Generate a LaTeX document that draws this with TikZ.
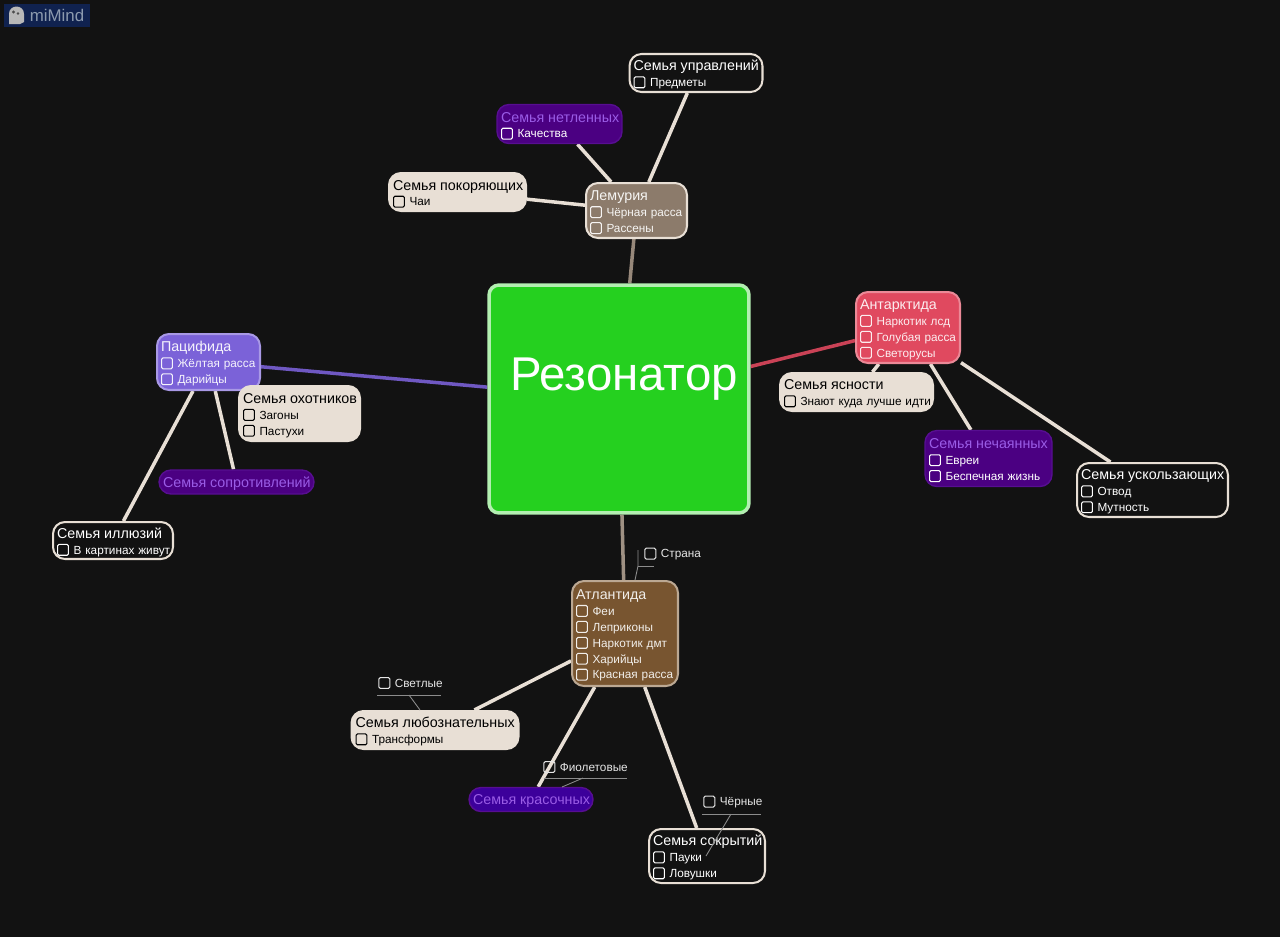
\documentclass[tikz,border=0pt]{standalone}
\usepackage{fontspec}
\setmainfont{Liberation Sans}
\usetikzlibrary{backgrounds}

\definecolor{bgdark}{HTML}{121212}
\definecolor{cream}{HTML}{E8DFD5}
\definecolor{deeppurple}{HTML}{4B0082}
\definecolor{lightpurple}{HTML}{9A5CE6}
\definecolor{lemcol}{HTML}{8C7B6B}
\definecolor{antcol}{HTML}{E0495F}
\definecolor{paccol}{HTML}{7B62D8}
\definecolor{atlcol}{HTML}{785530}
\definecolor{rezcol}{HTML}{25D01F}
\definecolor{logoblue}{HTML}{10224F}
\definecolor{logotext}{HTML}{8C9AAE}

\newcommand{\ttl}[1]{\mbox{\rule{0pt}{7.8pt}\fontsize{8.13}{9.6}\selectfont #1}}
\newcommand{\ptl}[1]{\mbox{\rule{0pt}{7.8pt}\fontsize{8.13}{9.6}\selectfont\color{lightpurple}#1}}
\newcommand{\itm}[1]{\mbox{\tikz[baseline=0.25pt]\draw[draw=.,line width=0.6pt,rounded corners=0.8pt] (0,-0.4pt) rectangle (6.2pt,5.8pt);\hspace{2.6pt}#1}}

\tikzset{
  mapnode/.style={rectangle, rounded corners=0.24cm, line width=1.15pt, inner xsep=0.08cm, inner ysep=0pt, align=left, font=\fontsize{6.7}{9.07}\selectfont},
  darkfam/.style={mapnode, draw=cream, fill=bgdark, text=white},
  lightfam/.style={mapnode, draw=cream, fill=cream, text=black},
  purplefam/.style={mapnode, draw=deeppurple!85!lightpurple, fill=deeppurple, text=white, line width=0.8pt},
  floatlabel/.style={inner sep=0pt, anchor=west, text=white!90!black, font=\fontsize{6.7}{9}\selectfont},
  branch/.style={line width=2pt, draw=cream},
  thinlink/.style={line width=0.5pt, draw=white!55!black}
}

\begin{document}
\begin{tikzpicture}[x=0.02cm, y=-0.02cm]

\node[draw=rezcol!35!white, fill=rezcol, rounded corners=0.2cm, line width=2pt, minimum width=5.2cm, minimum height=4.56cm, text=white, font=\fontsize{27}{30}\selectfont] (REZ) at (619,399) {\hspace*{0.2cm}\raisebox{0.18cm}[0pt][0pt]{Резонатор}};

\node[mapnode, draw=cream, fill=lemcol, text=white!92!lemcol, text width=1.86cm, minimum height=1.1cm] (LEM) at (636.5,210.5) {\ttl{Лемурия}\\\itm{Чёрная расса}\\\itm{Рассены}};
\node[darkfam, text width=2.5cm, minimum height=0.76cm] (UPR) at (696,73) {\ttl{Семья управлений}\\\itm{Предметы}};
\node[purplefam, text width=2.34cm, minimum height=0.78cm] (NET) at (559.5,124) {\ptl{Семья нетленных}\\\itm{Качества}};
\node[lightfam, text width=2.58cm, minimum height=0.76cm] (POK) at (457.5,192) {\ttl{Семья покоряющих}\\\itm{Чаи}};

\node[mapnode, draw=antcol!65!white, fill=antcol, text=white!90!antcol, text width=1.92cm, minimum height=1.42cm] (ANT) at (908,327.5) {\ttl{Антарктида}\\\itm{Наркотик лсд}\\\itm{Голубая расса}\\\itm{Светорусы}};
\node[lightfam, text width=2.9cm, minimum height=0.76cm] (YAS) at (856.5,392) {\ttl{Семья ясности}\\\itm{Знают куда лучше идти}};
\node[purplefam, text width=2.38cm, minimum height=1.12cm] (NEC) at (988.5,458.5) {\ptl{Семья нечаянных}\\\itm{Евреи}\\\itm{Беспечная жизнь}};
\node[darkfam, text width=2.86cm, minimum height=1.08cm] (USK) at (1152.5,490) {\ttl{Семья ускользающих}\\\itm{Отвод}\\\itm{Мутность}};

\node[mapnode, draw=paccol!65!white, fill=paccol, text=white!92!paccol, text width=1.9cm, minimum height=1.12cm] (PAC) at (208.5,362) {\ttl{Пацифида}\\\itm{Жёлтая расса}\\\itm{Дарийцы}};
\node[lightfam, text width=2.26cm, minimum height=1.1cm] (OHO) at (299.5,413.5) {\ttl{Семья охотников}\\\itm{Загоны}\\\itm{Пастухи}};
\node[purplefam, text width=2.94cm, minimum height=0.48cm] (SOP) at (236.5,482) {\ptl{Семья сопротивлений}};
\node[darkfam, text width=2.24cm, minimum height=0.74cm] (ILL) at (113,540.5) {\ttl{Семья иллюзий}\\\itm{В картинах живут}};

\node[mapnode, draw=atlcol!40!cream, fill=atlcol, text=white!90!atlcol, text width=1.96cm, minimum height=2.1cm] (ATL) at (625,633.5) {\ttl{Атлантида}\\\itm{Феи}\\\itm{Леприконы}\\\itm{Наркотик дмт}\\\itm{Харийцы}\\\itm{Красная расса}};
\node[lightfam, text width=3.18cm, minimum height=0.76cm] (LUB) at (435,730) {\ttl{Семья любознательных}\\\itm{Трансформы}};
\node[purplefam, fill=deeppurple!80!blue, text width=2.32cm, minimum height=0.48cm] (KRA) at (531,799.5) {\ptl{Семья красочных}};
\node[darkfam, text width=2.16cm, minimum height=1.08cm] (SOK) at (707,856) {\ttl{Семья сокрытий}\\\itm{Пауки}\\\itm{Ловушки}};

\node[floatlabel] (STR) at (644,554) {\itm{Страна}};
\node[floatlabel] (SVE) at (378,683) {\itm{Светлые}};
\node[floatlabel] (FIO) at (543,767) {\itm{Фиолетовые}};
\node[floatlabel] (CHE) at (703,802) {\itm{Чёрные}};

\begin{scope}[on background layer]
\fill[bgdark] (0,0) rectangle (1280,937);
\draw[branch, draw=lemcol!90!white] (REZ) -- (LEM);
\draw[branch, draw=antcol!90!black] (REZ) -- (ANT);
\draw[branch, draw=paccol!90!black] (REZ) -- (PAC);
\draw[branch, draw=atlcol!30!cream!80!black] (REZ) -- (ATL);
\draw[branch] (LEM) -- (UPR);
\draw[branch] (LEM) -- (NET);
\draw[branch] (LEM) -- (POK);
\draw[branch] (ANT) -- (YAS);
\draw[branch] (ANT) -- (NEC);
\draw[branch] (ANT) -- (USK);
\draw[branch] (PAC) -- (OHO);
\draw[branch] (PAC) -- (SOP);
\draw[branch] (PAC) -- (ILL);
\draw[branch] (ATL) -- (LUB);
\draw[branch] (ATL) -- (KRA);
\draw[branch] (ATL) -- (SOK);
\end{scope}

% underlines and links of the floating labels
\coordinate (STRA) at (638,566);
\coordinate (SVEA) at (409,695);
\coordinate (FIOA) at (583,778);
\coordinate (CHEA) at (731,814);
\coordinate (LUBE) at (420,710);
\coordinate (KRAE) at (562,787);
\coordinate (SOKE) at (706,856);
\coordinate (ATLE) at (635,580);

\draw[thinlink] (STRA) -- +(16,0);
\draw[thinlink] (638,550) -- (STRA) -- (ATLE);
\draw[thinlink] (377,695) -- (441,695);
\draw[thinlink] (SVEA) -- (LUBE);
\draw[thinlink] (544,778) -- (627,778);
\draw[thinlink] (FIOA) -- (KRAE);
\draw[thinlink] (702,814) -- (761,814);
\draw[thinlink] (CHEA) -- (SOKE);

% logo
\node[fill=logoblue, text=logotext, minimum width=1.72cm, minimum height=0.46cm, inner sep=0pt, font=\fontsize{9.6}{10}\selectfont] (LOGO) at (47,15.5) {\hspace*{0.4cm}miMind};
\fill[white!72!black] (9,24) -- (9,14) .. controls (9,4) and (24,4) .. (24,14) -- (24,22) -- (20,24) -- cycle;
\fill[black!70] (13.5,12) circle (1.6) (18,13.5) circle (1.3);

\end{tikzpicture}
\end{document}
